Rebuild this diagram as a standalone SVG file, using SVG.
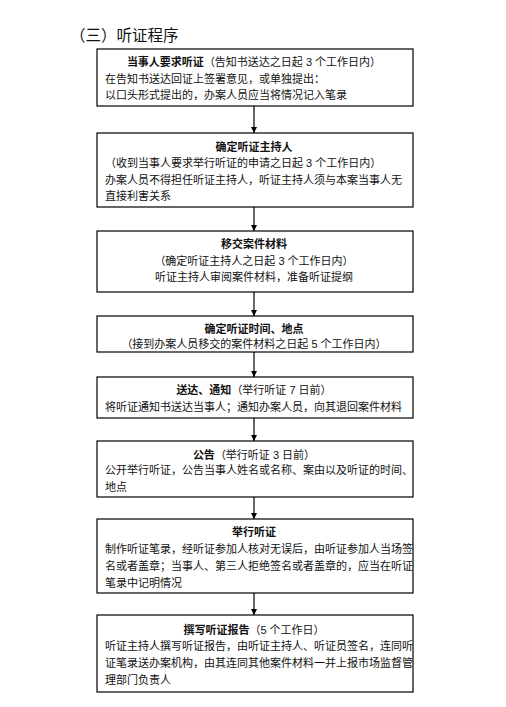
<svg xmlns="http://www.w3.org/2000/svg" width="506" height="707" viewBox="0 0 506 707">
<defs>
<marker id="ah" viewBox="0 0 10 10" refX="10" refY="5" markerWidth="6" markerHeight="6" orient="auto" markerUnits="userSpaceOnUse">
<path d="M0,0 L10,5 L0,10 z" fill="#000"/>
</marker>
<style>
.box{fill:#fff;stroke:#000;stroke-width:1.2}
text{font-family:"Liberation Sans","Noto Sans CJK SC",sans-serif;font-size:11px;fill:#111}
.c{text-anchor:middle}
.b{font-weight:bold}
.t{font-size:15.5px}
.cn{stroke:#000;stroke-width:1.2;fill:none;marker-end:url(#ah)}
</style>
</defs>
<rect width="506" height="707" fill="#fff"/>
<text class="t" x="70" y="41">（三）听证程序</text>

<g id="connectors">
<line class="cn" x1="254" y1="106" x2="254" y2="133"/>
<line class="cn" x1="254" y1="207" x2="254" y2="231"/>
<line class="cn" x1="254" y1="292" x2="254" y2="316"/>
<line class="cn" x1="254" y1="352" x2="254" y2="377"/>
<line class="cn" x1="254" y1="418" x2="254" y2="441"/>
<line class="cn" x1="254" y1="497" x2="254" y2="519"/>
<line class="cn" x1="254" y1="593" x2="254" y2="615"/>
</g>

<g id="n1">
<rect class="box" x="97" y="49" width="316" height="57"/>
<text class="c" x="254" y="66"><tspan class="b">当事人要求听证</tspan>（告知书送达之日起 3 个工作日内）</text>
<text x="105" y="83">在告知书送达回证上签署意见，或单独提出：</text>
<text x="105" y="99">以口头形式提出的，办案人员应当将情况记入笔录</text>
</g>

<g id="n2">
<rect class="box" x="97" y="133" width="316" height="74"/>
<text class="c b" x="254" y="151">确定听证主持人</text>
<text x="105" y="167">（收到当事人要求举行听证的申请之日起 3 个工作日内）</text>
<text x="105" y="184">办案人员不得担任听证主持人，听证主持人须与本案当事人无</text>
<text x="105" y="200">直接利害关系</text>
</g>

<g id="n3">
<rect class="box" x="97" y="231" width="316" height="61"/>
<text class="c b" x="254" y="248">移交案件材料</text>
<text class="c" x="254" y="265">（确定听证主持人之日起 3 个工作日内）</text>
<text class="c" x="254" y="281">听证主持人审阅案件材料，准备听证提纲</text>
</g>

<g id="n4">
<rect class="box" x="97" y="316" width="316" height="36"/>
<text class="c b" x="254" y="333">确定听证时间、地点</text>
<text class="c" x="254" y="348">（接到办案人员移交的案件材料之日起 5 个工作日内）</text>
</g>

<g id="n5">
<rect class="box" x="97" y="377" width="316" height="41"/>
<text class="c" x="254" y="394"><tspan class="b">送达、通知</tspan>（举行听证 7 日前）</text>
<text x="105" y="411">将听证通知书送达当事人；通知办案人员，向其退回案件材料</text>
</g>

<g id="n6">
<rect class="box" x="97" y="441" width="316" height="56"/>
<text class="c" x="254" y="459"><tspan class="b">公告</tspan>（举行听证 3 日前）</text>
<text x="105" y="474">公开举行听证，公告当事人姓名或名称、案由以及听证的时间、</text>
<text x="105" y="491">地点</text>
</g>

<g id="n7">
<rect class="box" x="97" y="519" width="316" height="74"/>
<text class="c b" x="254" y="536">举行听证</text>
<text x="105" y="553">制作听证笔录，经听证参加人核对无误后，由听证参加人当场签</text>
<text x="105" y="570">名或者盖章；当事人、第三人拒绝签名或者盖章的，应当在听证</text>
<text x="105" y="587">笔录中记明情况</text>
</g>

<g id="n8">
<rect class="box" x="97" y="615" width="316" height="77"/>
<text class="c" x="254" y="634"><tspan class="b">撰写听证报告</tspan>（5 个工作日）</text>
<text x="105" y="650">听证主持人撰写听证报告，由听证主持人、听证员签名，连同听</text>
<text x="105" y="667">证笔录送办案机构，由其连同其他案件材料一并上报市场监督管</text>
<text x="105" y="684">理部门负责人</text>
</g>
</svg>
